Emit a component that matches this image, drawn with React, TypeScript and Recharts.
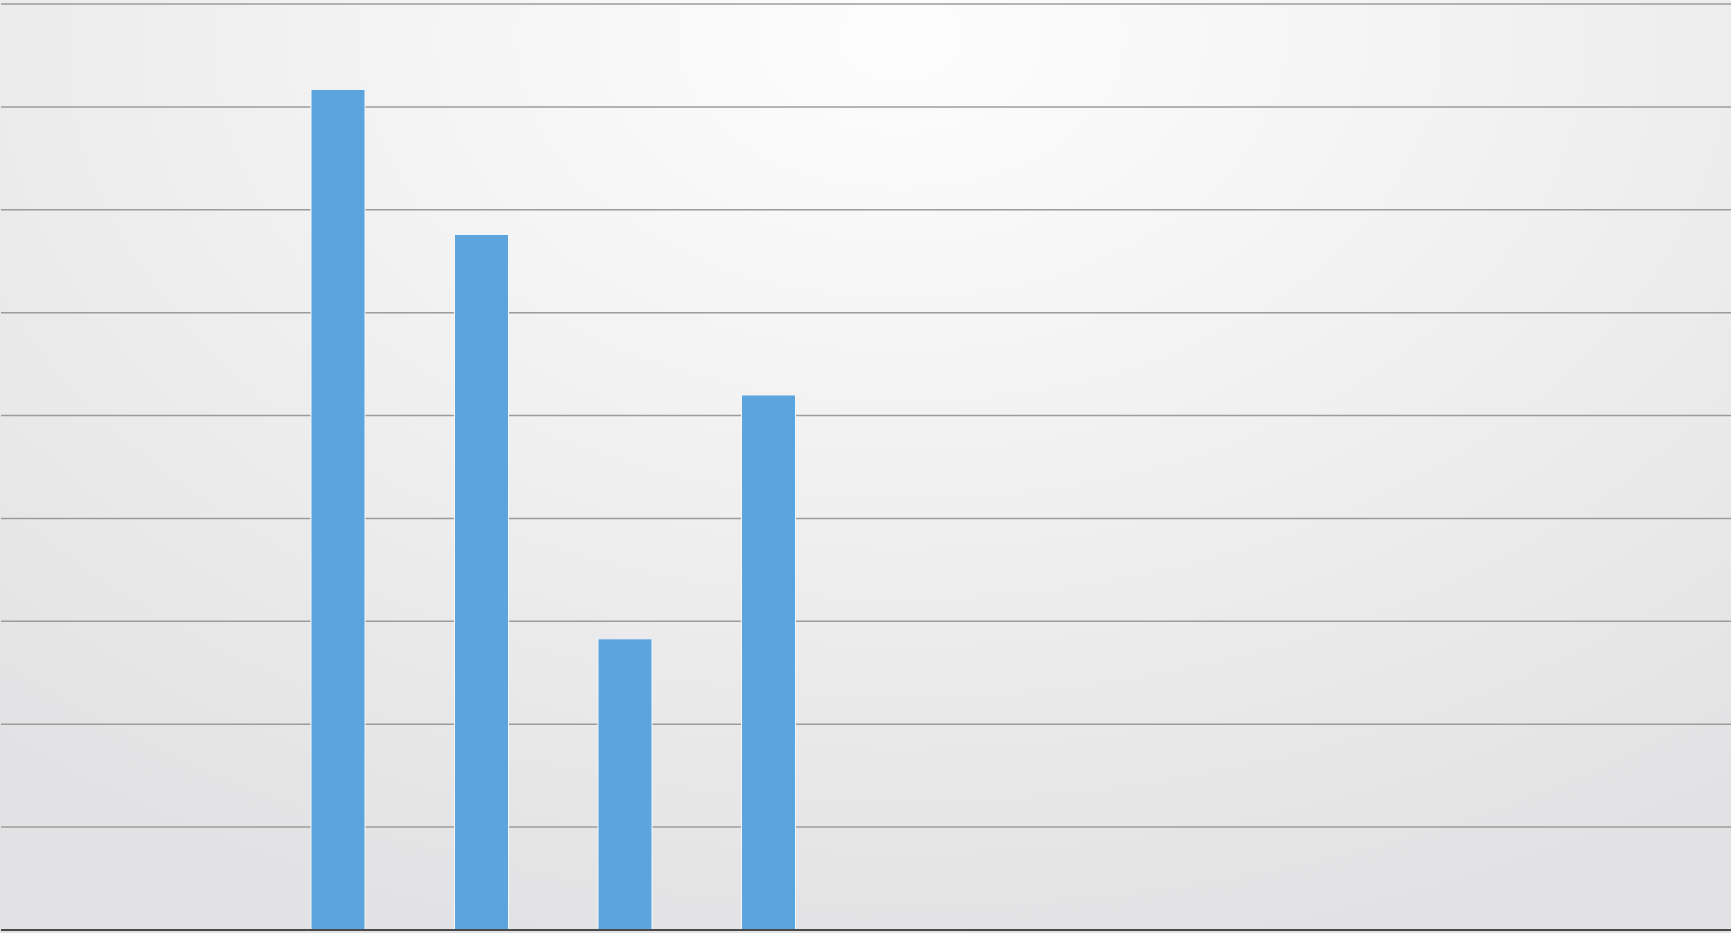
import { BarChart, Bar, XAxis, YAxis, CartesianGrid } from 'recharts';

const CATEGORIES = ['A', 'B', 'C', 'D'];
const VALUES = [8.17, 6.76, 2.83, 5.2];
const Y_TICKS = [0, 1, 2, 3, 4, 5, 6, 7, 8, 9];

const data = CATEGORIES.map((c, i) => ({ cat: c, v: VALUES[i] }));

const W = 1731;
const H = 933;

// axis labels are off the photo, so draw nothing for ticks
const NoTick = () => <g/>;

export default function App() {
  return (
    <div style={{position:'fixed',top:0,left:0,width:W,height:H,overflow:'hidden',
      background:'radial-gradient(ellipse 80% 100% at 52% 4%, #fdfdfd 0%, #f4f4f4 35%, #eaeaeb 70%, #e2e2e4 100%)'}}>
      <BarChart width={W} height={H} data={data} margin={{top:4,right:0,bottom:2,left:0}}>
        <CartesianGrid vertical={false} stroke="#9c9c9c" strokeWidth={1.5}/>
        <XAxis dataKey="cat" tick={NoTick} tickLine={false} height={1} axisLine={{stroke:'#4a4a4a',strokeWidth:2}} padding={{left:265,right:891}}/>
        <YAxis domain={[0,9]} ticks={Y_TICKS} interval={0} width={1} tick={NoTick} tickLine={false} axisLine={false}/>
        <Bar dataKey="v" fill="#5ca4de" barSize={54} stroke="#f4f6f8" strokeWidth={1} isAnimationActive={false}/>
      </BarChart>
    </div>
  );
}
